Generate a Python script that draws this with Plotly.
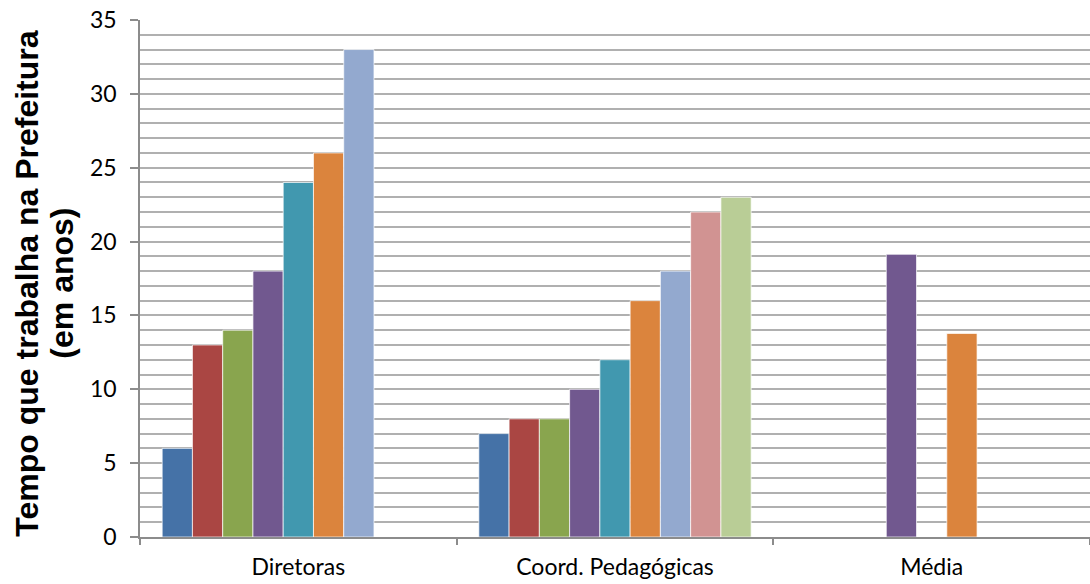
import plotly.graph_objects as go

categories = ["Diretoras", "Coord. Pedagógicas", "Média"]

# Years worked per person; None where the group has no such member
diretoras = [6, 13, 14, 18, 24, 26, 33, None, None]
coordenadoras = [7, 8, 8, 10, 12, 16, 18, 22, 23]
media_diretoras = round(sum(v for v in diretoras if v is not None) / 7, 2)
media_coord = round(sum(coordenadoras) / 9, 2)
media = [None, None, None, media_diretoras, None, media_coord, None, None, None]

colors = ["#4572A7", "#AA4643", "#89A54E", "#71588F", "#4198AF",
          "#DB843D", "#93A9CF", "#D19392", "#B9CD96"]

fig = go.Figure()
for i, color in enumerate(colors):
    fig.add_trace(go.Bar(
        x=categories,
        y=[diretoras[i], coordenadoras[i], media[i]],
        marker=dict(color=color, line=dict(color="rgba(255,255,255,0.7)", width=1)),
        showlegend=False,
        hoverinfo="y",
    ))

title_font = dict(family="Liberation Sans, Arial, sans-serif", size=32, color="black")

fig.update_layout(
    width=1090, height=584,
    margin=dict(l=140, r=0, t=20, b=47),
    paper_bgcolor="white", plot_bgcolor="white",
    barmode="group", bargap=0.14, bargroupgap=0,
    font=dict(family="Lato, Open Sans, sans-serif", size=22, color="black"),
    xaxis=dict(
        type="category", range=[-0.5, 2.5],
        showline=True, linecolor="#8c8c8c", linewidth=1.5,
        ticks="outside", ticklen=6, tickcolor="#8c8c8c", tickwidth=1.5,
        tickson="boundaries", showgrid=False,
        tickfont=dict(size=23), ticklabelstandoff=9,
    ),
    yaxis=dict(
        range=[0, 35], dtick=5, tick0=0,
        showline=True, linecolor="#8c8c8c", linewidth=1.5,
        ticks="outside", ticklen=8, tickcolor="#8c8c8c", tickwidth=1.5,
        showgrid=True, gridcolor="#b0b0b0", gridwidth=1.5,
        minor=dict(dtick=1, showgrid=True, gridcolor="#b0b0b0", gridwidth=1.5),
        zeroline=False,
        tickfont=dict(size=23), ticklabelstandoff=9,
    ),
    annotations=[
        dict(text="<b>Tempo que trabalha na Prefeitura</b>",
             textangle=-90, xref="paper", yref="paper",
             x=-140 / 950 + 27 / 950, y=0.49, xanchor="center", yanchor="middle",
             showarrow=False, font=title_font),
        dict(text="<b>(em anos)</b>",
             textangle=-90, xref="paper", yref="paper",
             x=-140 / 950 + 62 / 950, y=0.49, xanchor="center", yanchor="middle",
             showarrow=False, font=title_font),
    ],
)

fig.write_html("out.html")
